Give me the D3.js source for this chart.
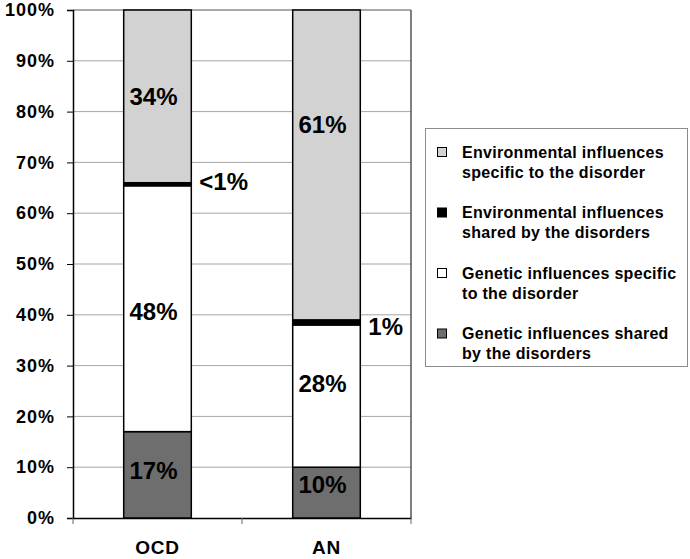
<!DOCTYPE html>
<html><head><meta charset="utf-8">
<script src="https://cdn.jsdelivr.net/npm/d3@7"></script>
<style>
body{margin:0;background:#fff;}
text{font-family:"Liberation Sans",Arial,sans-serif;font-weight:bold;fill:#000;}
</style></head>
<body><svg id="c" width="690" height="559"></svg>
<script>
const categories = ["OCD","AN"];
const seriesNames = ["Genetic influences shared by the disorders","Genetic influences specific to the disorder","Environmental influences shared by the disorders","Environmental influences specific to the disorder"];
const genShared = [17, 10];
const genSpecific = [48.4, 28];
const envShared = [0.6, 1];
const envSpecific = [34, 61];
const labelText = [["17%","48%","<1%","34%"],["10%","28%","1%","61%"]];
const labelAt = [[9.4,40.6,66.2,83],[6.5,26.5,37.6,77.4]];
const yTicks = [0,10,20,30,40,50,60,70,80,90,100];
const legendOrder = [3,2,1,0];
const colors = ["#6e6e6e","#ffffff","#000000","#d2d2d2"];

const svg = d3.select("#c");
const L=73,R=411,T=10,B=518;
const x = d3.scaleBand().domain(categories).range([L,R]).paddingInner(0.6).paddingOuter(0.3);
const xAxisScale = d3.scaleBand().domain(categories).range([L,R]);
const y = d3.scaleLinear().domain([0,100]).range([B,T]);

const rows = categories.map((c,i)=>({cat:c, s0:genShared[i], s1:genSpecific[i], s2:envShared[i], s3:envSpecific[i]}));
const stack = d3.stack().keys(["s0","s1","s2","s3"])(rows);

// gridlines
svg.append("g").selectAll("line").data(yTicks.filter(t=>t>0)).join("line")
  .attr("x1",L).attr("x2",R).attr("y1",d=>y(d)).attr("y2",d=>y(d))
  .attr("stroke",d=>d===100?"#555":"#a6a6a6").attr("stroke-width",1);
// right border
svg.append("line").attr("x1",R).attr("x2",R).attr("y1",T).attr("y2",B).attr("stroke","#555").attr("stroke-width",1.5);

// y axis
const ya = svg.append("g").attr("transform",`translate(${L},0)`)
  .call(d3.axisLeft(y).tickValues(yTicks).tickFormat(d=>d+"%").tickSize(6).tickPadding(12));
ya.select(".domain").attr("stroke","#000").attr("stroke-width",1.5);
ya.selectAll(".tick line").attr("stroke","#000");
ya.selectAll("text").style("font-size","18px").style("letter-spacing","1px").attr("font-family",null);

// x axis
const xa = svg.append("g").attr("transform",`translate(0,${B})`)
  .call(d3.axisBottom(xAxisScale).tickSize(0));
xa.select(".domain").attr("stroke","#000").attr("stroke-width",1.5);
xa.selectAll("text").style("font-size","19px").style("letter-spacing","0.8px").attr("y",36).attr("dy","0");
const xt = [L,(L+R)/2,R];
svg.append("g").selectAll("line").data(xt).join("line")
  .attr("x1",d=>d).attr("x2",d=>d).attr("y1",B).attr("y2",B+6).attr("stroke","#666");

// bars
stack.forEach((layer,k)=>{
  svg.append("g").selectAll("rect").data(layer).join("rect")
    .attr("x",d=>x(d.data.cat)).attr("width",x.bandwidth())
    .attr("y",d=>y(d[1])).attr("height",d=>y(d[0])-y(d[1]))
    .attr("fill",colors[k]).attr("stroke","#000").attr("stroke-width",1.5);
});

// labels
categories.forEach((c,i)=>{
  labelText[i].forEach((t,k)=>{
    const outside = k===2;
    svg.append("text")
      .attr("x", outside ? x(c)+x.bandwidth()+8 : x(c)+x.bandwidth()/2-4)
      .attr("y", y(labelAt[i][k]))
      .attr("dy","0.35em")
      .attr("text-anchor", outside ? "start":"middle")
      .style("font-size", "24px")
      .text(t);
  });
});

// legend
const lg = svg.append("g");
lg.append("rect").attr("x",425.5).attr("y",128.5).attr("width",262).attr("height",238)
  .attr("fill","#fff").attr("stroke","#8c8c8c").attr("stroke-width",1);
const legendLines = [["Environmental influences","specific to the disorder"],["Environmental influences","shared by the disorders"],["Genetic influences specific","to the disorder"],["Genetic influences shared","by the disorders"]];
legendOrder.forEach((k,j)=>{
  const cy = 152 + j*60.5;
  lg.append("rect").attr("x",437.5).attr("y",cy-4.5).attr("width",9).attr("height",9)
    .attr("fill",colors[k]).attr("stroke","#000").attr("stroke-width",1);
  const tx = lg.append("text").attr("x",462).attr("y",cy).style("font-size","16px").style("letter-spacing","0.3px");
  legendLines[j].forEach((ln,m)=>{
    tx.append("tspan").attr("x",462).attr("dy", m===0?"0.35em":"20px").text(ln);
  });
});
</script></body></html>
